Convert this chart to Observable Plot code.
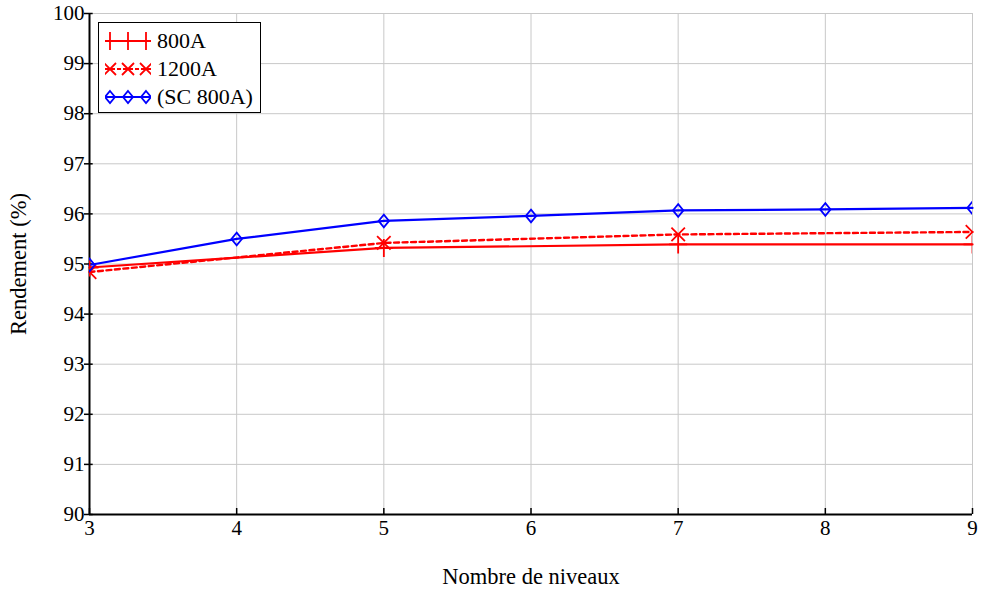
<!DOCTYPE html>
<html>
<head>
<meta charset="utf-8">
<script src="https://cdn.jsdelivr.net/npm/d3@7"></script>
<script src="https://cdn.jsdelivr.net/npm/@observablehq/plot@0.6"></script>
<style>
  html, body { margin: 0; padding: 0; background: #fff; }
  #wrap { position: relative; width: 983px; height: 591px; font-family: "Liberation Serif", "Times New Roman", serif; }
  #legend { position: absolute; left: 98px; top: 22px; width: 161px; height: 89px; border: 1.5px solid #000; background: #fff; }
  .row { position: absolute; left: 6px; height: 26px; display: flex; align-items: center; font-size: 22px; color: #000; font-family: "Liberation Serif", "Times New Roman", serif; }
  .row svg { margin-right: 6px; }
</style>
</head>
<body>
<div id="wrap"><div id="legend"></div></div>
<script>
// ---- data ----
const niveaux = [3, 4, 5, 6, 7, 8, 9];
const sc800 = [94.98, 95.50, 95.86, 95.96, 96.07, 96.09, 96.12];
const niveauxRouge = [3, 5, 7, 9];
const r800 = [94.93, 95.32, 95.39, 95.39];
const r1200 = [94.84, 95.42, 95.59, 95.64];
const xTicks = [3, 4, 5, 6, 7, 8, 9];
const yTicks = [90, 91, 92, 93, 94, 95, 96, 97, 98, 99, 100];
const seriesNames = ["800A", "1200A", "(SC 800A)"];

const dSC = niveaux.map((x, i) => ({x, y: sc800[i]}));
const d800 = niveauxRouge.map((x, i) => ({x, y: r800[i]}));
const d1200 = niveauxRouge.map((x, i) => ({x, y: r1200[i]}));

// custom stroked symbols
const rad = s => Math.sqrt(s / Math.PI);
const plusSym = {draw(c, s) { const r = rad(s); c.moveTo(-r, 0); c.lineTo(r, 0); c.moveTo(0, -r); c.lineTo(0, r); }};
const crossSym = {draw(c, s) { const r = rad(s) * 0.75; c.moveTo(-r, -r); c.lineTo(r, r); c.moveTo(-r, r); c.lineTo(r, -r); }};
const diamondSym = {draw(c, s) { const r = rad(s); c.moveTo(0, -r * 1.15); c.lineTo(r * 0.95, 0); c.lineTo(0, r * 1.15); c.lineTo(-r * 0.95, 0); c.closePath(); }};

const RED = "#ff0000", BLUE = "#0000ff", GRID = "#c8c8c8";
const SERIF = "'Liberation Serif', 'Times New Roman', serif";

const chart = Plot.plot({
  width: 983,
  height: 591,
  marginLeft: 89,
  marginRight: 11,
  marginTop: 13,
  marginBottom: 77,
  style: {fontFamily: SERIF, fontSize: "21px", color: "#000", background: "#fff"},
  x: {domain: [3, 9]},
  y: {domain: [90, 100]},
  marks: [
    Plot.ruleX(xTicks, {stroke: GRID, strokeWidth: 1}),
    Plot.ruleY(yTicks, {stroke: GRID, strokeWidth: 1}),
    Plot.axisY(yTicks, {tickSize: 5, tickPadding: 0, strokeWidth: 1.5, tickFormat: "d", fontFamily: SERIF, fontSize: "21px",
      label: "Rendement (%)", labelAnchor: "center", labelArrow: "none", labelOffset: 79}),
    Plot.axisX(xTicks, {tickSize: 0, tickPadding: 6, tickFormat: "d", fontFamily: SERIF, fontSize: "21px",
      label: "Nombre de niveaux", labelAnchor: "center", labelArrow: "none", labelOffset: 69}),
    Plot.ruleX(xTicks, {y1: 90, y2: 90.12, stroke: "#000", strokeWidth: 1.5}),
    Plot.ruleY(yTicks, {x1: 3, x2: 3.025, stroke: "#000", strokeWidth: 1.5}),
    Plot.ruleX([3], {stroke: "#000", strokeWidth: 2}),
    Plot.ruleY([90], {stroke: "#000", strokeWidth: 2}),
    Plot.line(d800, {x: "x", y: "y", stroke: RED, strokeWidth: 2.2}),
    Plot.line(d1200, {x: "x", y: "y", stroke: RED, strokeWidth: 2.4, strokeDasharray: "5,3.5"}),
    Plot.line(dSC, {x: "x", y: "y", stroke: BLUE, strokeWidth: 2.2}),
    Plot.dot(d800, {x: "x", y: "y", symbol: plusSym, r: 9, stroke: RED, strokeWidth: 1.8, fill: "none", clip: true}),
    Plot.dot(d1200, {x: "x", y: "y", symbol: crossSym, r: 9, stroke: RED, strokeWidth: 1.8, fill: "none", clip: true}),
    Plot.dot(dSC, {x: "x", y: "y", symbol: diamondSym, r: 5.5, stroke: BLUE, strokeWidth: 1.8, fill: "none", clip: true})
  ]
});
// larger axis titles
chart.querySelectorAll("g[aria-label='y-axis label'] text, g[aria-label='x-axis label'] text").forEach(t => t.setAttribute("font-size", "22.5px"));
document.getElementById("wrap").prepend(chart);

// legend (HTML overlay)
const legend = document.getElementById("legend");
const specs = [
  {name: seriesNames[0], color: RED, dash: null, sym: "plus"},
  {name: seriesNames[1], color: RED, dash: "4,2", sym: "cross"},
  {name: seriesNames[2], color: BLUE, dash: null, sym: "diamond"}
];
specs.forEach((s, i) => {
  const row = document.createElement("div");
  row.className = "row";
  row.style.top = (5 + i * 28) + "px";
  const ns = "http://www.w3.org/2000/svg";
  const svg = document.createElementNS(ns, "svg");
  svg.setAttribute("width", 46); svg.setAttribute("height", 22);
  const g = d3.select(svg);
  g.append("line").attr("x1", 0).attr("x2", 46).attr("y1", 11).attr("y2", 11)
    .attr("stroke", s.color).attr("stroke-width", 2.2).attr("stroke-dasharray", s.dash);
  [5, 23, 41].forEach(cx => {
    let p = "";
    if (s.sym === "plus") p = `M${cx - 5},11H${cx + 5}M${cx},2V20`;
    if (s.sym === "cross") p = `M${cx - 6},5L${cx + 6},17M${cx - 6},17L${cx + 6},5`;
    if (s.sym === "diamond") p = `M${cx},5L${cx + 5},11L${cx},17L${cx - 5},11Z`;
    g.append("path").attr("d", p).attr("fill", "none").attr("stroke", s.color).attr("stroke-width", 1.8);
  });
  row.appendChild(svg);
  const t = document.createElement("span");
  t.textContent = s.name;
  row.appendChild(t);
  legend.appendChild(row);
});
</script>
</body>
</html>
